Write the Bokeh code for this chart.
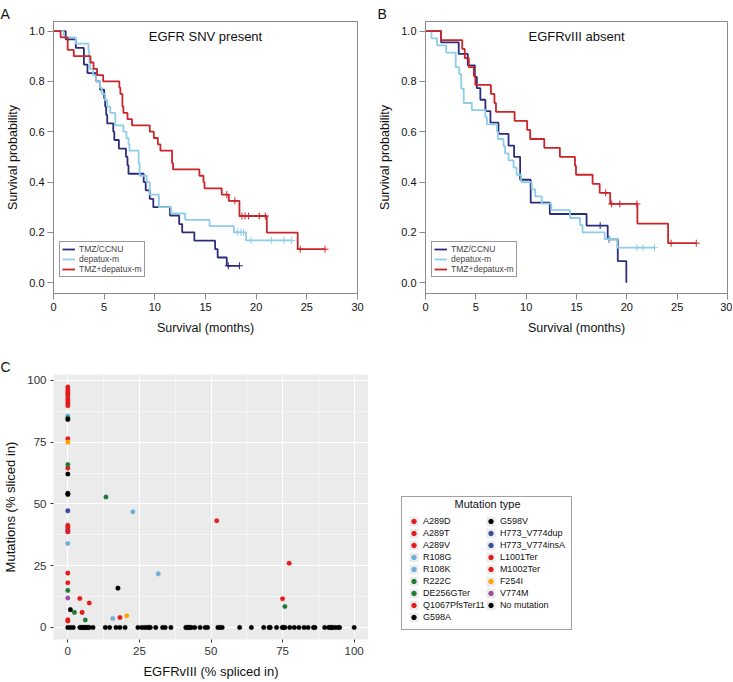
import numpy as np
from bokeh.plotting import figure
from bokeh.models import (Range1d, FixedTicker, PrintfTickFormatter, Legend,
                          LegendItem, Label, ColumnDataSource)
from bokeh.layouts import column, row
from bokeh.embed import file_html
from bokeh.resources import INLINE

FONT = "Liberation Sans"

# ---------------- Kaplan-Meier data (months, survival) ----------------
# Panel A: EGFR SNV present
a_tmz_t = [1.2, 2.2, 3.0, 3.35, 4.2, 4.6, 5.0, 5.1, 5.2, 5.3, 5.9, 6.0, 6.45, 7.15, 7.3,
           7.4, 8.9, 9.1, 9.5, 9.85, 11.5, 12.4, 12.7, 13.9, 15.95, 16.2, 17.1]
a_tmz_s = [0.967, 0.933, 0.867, 0.833, 0.800, 0.767, 0.733, 0.700, 0.667, 0.633, 0.600,
           0.567, 0.533, 0.500, 0.467, 0.433, 0.400, 0.367, 0.333, 0.300, 0.267, 0.233,
           0.200, 0.167, 0.133, 0.100, 0.067]
a_tmz_c = [17.25, 18.35]

a_dep_t = [1.0, 2.2, 3.45, 3.5, 3.55, 3.6, 3.9, 4.2, 4.6, 4.75, 5.1, 5.3, 5.6, 6.1, 6.9,
           7.2, 7.4, 7.5, 8.4, 8.5, 9.2, 9.5, 10.4, 11.6, 13.0, 15.4, 17.8, 19.0]
a_dep_s = [0.975, 0.950, 0.925, 0.900, 0.875, 0.850, 0.825, 0.800, 0.775, 0.750, 0.725,
           0.700, 0.675, 0.625, 0.600, 0.575, 0.550, 0.525, 0.475, 0.425, 0.400, 0.350,
           0.300, 0.275, 0.250, 0.225, 0.200, 0.168]
a_dep_c = [18.15, 18.5, 18.75, 19.5, 21.5, 22.75, 23.5]

a_cmb_t = [0.7, 1.4, 2.0, 3.65, 3.95, 4.3, 4.9, 6.5, 6.6, 6.8, 6.9, 7.3, 7.75, 9.5, 9.9,
           10.3, 10.55, 11.7, 11.8, 14.4, 14.8, 14.9, 16.6, 17.3, 18.35, 21.05, 24.1]
a_cmb_s = [0.975, 0.925, 0.900, 0.875, 0.850, 0.825, 0.800, 0.775, 0.750, 0.700, 0.675,
           0.650, 0.625, 0.600, 0.575, 0.550, 0.525, 0.475, 0.450, 0.425, 0.400, 0.375,
           0.350, 0.325, 0.265, 0.199, 0.133]
a_cmb_c = [17.1, 17.9, 18.6, 18.9, 19.25, 20.3, 20.9, 24.35, 26.8]

# Panel B: EGFRvIII absent
b_tmz_t = [1.55, 3.3, 4.2, 4.9, 5.1, 5.45, 5.95, 6.45, 7.25, 8.25, 8.8, 9.4, 10.45,
           12.35, 16.0, 18.1, 19.1, 19.95]
b_tmz_s = [0.955, 0.909, 0.864, 0.818, 0.773, 0.727, 0.682, 0.636, 0.591, 0.545, 0.500,
           0.409, 0.318, 0.273, 0.227, 0.172, 0.086, 0.0]
b_tmz_c = [17.35, 18.25]

b_dep_t = [0.6, 1.15, 2.05, 3.0, 3.35, 3.55, 3.8, 4.6, 5.95, 6.1, 7.1, 7.2, 7.75, 7.9,
           8.25, 8.75, 9.05, 9.5, 10.55, 10.9, 11.55, 12.5, 14.35, 15.35, 15.6, 17.8, 19.05]
b_dep_s = [0.971, 0.943, 0.914, 0.857, 0.829, 0.771, 0.714, 0.686, 0.657, 0.629, 0.600,
           0.571, 0.543, 0.514, 0.486, 0.457, 0.429, 0.400, 0.371, 0.343, 0.314, 0.288,
           0.257, 0.229, 0.200, 0.173, 0.139]
b_dep_c = [18.3, 21.0, 21.6, 22.75]

b_cmb_t = [1.55, 3.65, 3.9, 4.3, 4.8, 4.95, 6.5, 6.85, 7.0, 8.85, 10.1, 10.4, 11.8,
           13.35, 14.85, 14.95, 16.6, 17.3, 18.35, 21.05, 24.1]
b_cmb_s = [0.964, 0.929, 0.893, 0.857, 0.821, 0.786, 0.750, 0.714, 0.679, 0.643, 0.607,
           0.571, 0.536, 0.500, 0.464, 0.429, 0.393, 0.357, 0.313, 0.235, 0.157]
b_cmb_c = [17.9, 18.5, 19.3, 21.0, 24.4, 26.9]

arm_labels = ["TMZ/CCNU", "depatux-m", "TMZ+depatux-m"]
arm_colors = ["#2B2D7C", "#8ECDEA", "#C8262B"]

month_ticks = [0, 5, 10, 15, 20, 25, 30]
prob_ticks = [0.0, 0.2, 0.4, 0.6, 0.8, 1.0]

# ---------------- Scatter data (panel C) ----------------
mut_types = ["A289D", "A289T", "A289V", "R108G", "R108K", "R222C", "DE256GTer",
             "Q1067PfsTer11", "G598A", "G598V", "H773_V774dup", "H773_V774insA",
             "L1001Ter", "M1002Ter", "F254I", "V774M", "No mutation"]
mut_colors = ["#E41A1C", "#E41A1C", "#E41A1C", "#6FAED8", "#6FAED8", "#1E7B37", "#1E7B37",
              "#E41A1C", "#000000", "#000000", "#3A4B9E", "#3A4B9E", "#E41A1C", "#E41A1C",
              "#FFA500", "#984EA3", "#000000"]

vIII_x = [0, 0, 0, 0, 4.2,
          0, 0, 0, 0, 77.3,
          0, 0, 0, 0, 0, 0, 0, 52.0,
          0, 22.7, 15.7,
          0, 31.6,
          0, 0, 13.3, 2.3,
          0, 6.1, 75.8,
          0, 5.0,
          0, 0, 0.9,
          0, 0, 17.5,
          0,
          0,
          0, 7.5, 75.0,
          0, 0, 18.2,
          0, 20.6,
          0]
mut_y = [96.2, 94.6, 64.5, 39.7, 11.7,
         92.6, 90.6, 76.4, 18.1, 26.0,
         97.3, 95.3, 93.8, 91.6, 89.7, 41.3, 22.0, 43.2,
         85.6, 46.8, 3.6,
         34.0, 21.7,
         84.8, 65.9, 52.8, 6.1,
         15.0, 3.0, 8.5,
         40.6, 6.1,
         84.2, 54.3, 7.2,
         62.1, 53.8, 15.9,
         47.2,
         38.9,
         38.7, 9.9, 11.6,
         3.1, 2.6, 4.0,
         75.0, 4.7,
         11.9]
mut_label = (["A289D"] * 5 + ["A289T"] * 5 + ["A289V"] * 8 + ["R108G"] * 3 + ["R108K"] * 2
             + ["R222C"] * 4 + ["DE256GTer"] * 3 + ["Q1067PfsTer11"] * 2 + ["G598A"] * 3
             + ["G598V"] * 3 + ["H773_V774dup"] + ["H773_V774insA"] + ["L1001Ter"] * 3
             + ["M1002Ter"] * 3 + ["F254I"] * 2 + ["V774M"])

nomut_x = [0, 0.9, 1.9, 4.2, 4.7, 5.2, 5.7, 6.1, 6.6, 7.1, 7.5, 8.8, 13.1, 14.6, 16.8, 18.2,
           20.0, 24.5, 25.9, 26.9, 27.8, 28.4, 28.8, 30.7, 33.1, 34.0, 36.0, 41.2, 41.7,
           42.1, 42.6, 43.1, 44.3, 46.2, 48.0, 48.8, 52.4, 53.2, 53.9, 60.0, 64.1, 68.4,
           70.3, 70.7, 72.9, 74.9, 75.3, 75.8, 77.5, 79.1, 80.7, 82.5, 83.9, 85.8, 86.3,
           89.7, 91.1, 91.6, 92.0, 92.5, 93.4, 94.4, 94.9, 100.0]
nomut_y = [0.0] * len(nomut_x)

pct_ticks = [0, 25, 50, 75, 100]
pct_minor = [12.5, 37.5, 62.5, 87.5]


def km_arrays(t, s, c):
    end = max(c + [t[-1]])
    x = [0.0] + list(t) + [end]
    y = [1.0] + list(s) + [s[-1]]
    ta = np.array(t)
    sa = np.array(s)
    idx = np.searchsorted(ta, np.array(c), side="right") - 1
    cy = [float(sa[i]) if i >= 0 else 1.0 for i in idx]
    return x, y, list(c), cy


def set_letter(p, letter, offset):
    p.title.text = letter
    p.title.align = "left"
    p.title.offset = offset
    p.title.standoff = 0
    p.title.text_font = FONT
    p.title.text_font_size = "14px"
    p.title.text_font_style = "normal"
    p.title.text_color = "#111111"


def km_fig(width, bl, br, curves, title, letter):
    p = figure(width=width, height=338, min_border_left=bl, min_border_right=br,
               min_border_top=21, min_border_bottom=45,
               x_range=Range1d(0, 30), y_range=Range1d(-0.043, 1.038),
               output_backend="svg", toolbar_location=None, tools="")
    p.grid.visible = False
    p.background_fill_color = "white"
    p.border_fill_color = "white"
    p.outline_line_color = "#8A8A8A"
    p.outline_line_width = 1
    for ax in (p.xaxis[0], p.yaxis[0]):
        ax.axis_line_color = "#8A8A8A"
        ax.major_tick_line_color = "#8A8A8A"
        ax.minor_tick_line_color = None
        ax.major_tick_out = 6
        ax.major_tick_in = 0
        ax.major_label_text_font = FONT
        ax.major_label_text_font_size = "11px"
        ax.major_label_text_color = "#111111"
        ax.axis_label_text_font = FONT
        ax.axis_label_text_font_size = "12.5px"
        ax.axis_label_text_font_style = "normal"
        ax.axis_label_text_color = "#111111"
        ax.major_label_standoff = 3
    p.xaxis.ticker = FixedTicker(ticks=month_ticks)
    p.yaxis.ticker = FixedTicker(ticks=prob_ticks)
    p.yaxis.formatter = PrintfTickFormatter(format="%.1f")
    p.yaxis.major_label_orientation = "horizontal"
    p.xaxis.axis_label = "Survival (months)"
    p.yaxis.axis_label = "Survival probability"
    p.xaxis.axis_label_standoff = 7
    p.yaxis.axis_label_standoff = 6

    items = []
    for (t, s, c), lab, col in zip(curves, arm_labels, arm_colors):
        x, y, cx, cy = km_arrays(t, s, c)
        r = p.step(x=x, y=y, mode="after", line_color=col, line_width=1.8)
        p.scatter(x=cx, y=cy, marker="cross", size=7, line_color=col, line_width=1)
        items.append(LegendItem(label=lab, renderers=[r]))
    leg = Legend(items=items, location=(6, 16), border_line_color="#333333",
                 border_line_width=1, background_fill_color="white",
                 background_fill_alpha=1, label_text_font=FONT,
                 label_text_font_size="8.5px", glyph_width=13, glyph_height=8,
                 label_height=8, label_standoff=4, padding=2, spacing=0, margin=0)
    p.add_layout(leg)
    p.add_layout(Label(x=15, y=0.978, text=title, text_align="center",
                       text_baseline="middle", text_font=FONT, text_font_size="13px",
                       text_color="#111111"))
    set_letter(p, letter, -bl + 0)
    return p


pA = km_fig(375, 53, 18, [(a_tmz_t, a_tmz_s, a_tmz_c), (a_dep_t, a_dep_s, a_dep_c),
                          (a_cmb_t, a_cmb_s, a_cmb_c)], "EGFR SNV present", "A")
pB = km_fig(357, 48, 5, [(b_tmz_t, b_tmz_s, b_tmz_c), (b_dep_t, b_dep_s, b_dep_c),
                         (b_cmb_t, b_cmb_s, b_cmb_c)], "EGFRvIII absent", "B")

# ---------------- Panel C ----------------
pC = figure(width=368, height=343, min_border_left=51, min_border_right=0,
            min_border_top=36, min_border_bottom=42,
            x_range=Range1d(-5, 105), y_range=Range1d(-4.875, 102.375),
            output_backend="svg", toolbar_location=None, tools="")
pC.background_fill_color = "#EBEBEB"
pC.border_fill_color = "white"
pC.outline_line_color = None
for ax in (pC.xaxis[0], pC.yaxis[0]):
    ax.axis_line_color = None
    ax.major_tick_line_color = "#333333"
    ax.minor_tick_line_color = None
    ax.major_tick_out = 3
    ax.major_tick_in = 0
    ax.major_label_text_font = FONT
    ax.major_label_text_font_size = "11.5px"
    ax.major_label_text_color = "#333333"
    ax.axis_label_text_font = FONT
    ax.axis_label_text_font_size = "13px"
    ax.axis_label_text_font_style = "normal"
    ax.axis_label_text_color = "#111111"
    ax.major_label_standoff = 3
    ax.ticker = FixedTicker(ticks=pct_ticks, minor_ticks=pct_minor)
pC.yaxis.major_label_orientation = "horizontal"
pC.xaxis.axis_label = "EGFRvIII (% spliced in)"
pC.yaxis.axis_label = "Mutations (% sliced in)"
pC.xaxis.axis_label_standoff = 6
pC.yaxis.axis_label_standoff = 6
for g in (pC.xgrid[0], pC.ygrid[0]):
    g.grid_line_color = "white"
    g.grid_line_width = 1.1
    g.minor_grid_line_color = "white"
    g.minor_grid_line_width = 0.5
set_letter(pC, "C", -53)

pC.scatter(x=nomut_x, y=nomut_y, size=4.6, fill_color="#000000",
           line_color="#000000", line_width=0.3)
lab_arr = np.array(mut_label)
xs = np.array(vIII_x)
ys = np.array(mut_y)
for t, col in zip(mut_types, mut_colors):
    if t == "No mutation":
        continue
    m = lab_arr == t
    src = ColumnDataSource(data=dict(x=xs[m], y=ys[m]))
    pC.scatter(x="x", y="y", source=src, size=4.6, fill_color=col,
               line_color=col, line_width=0.3)

# ---------------- Legend panel for C ----------------
pL = figure(width=364, height=343, min_border_left=0, min_border_right=0,
            min_border_top=0, min_border_bottom=0, x_axis_type=None, y_axis_type=None,
            x_range=Range1d(0, 1), y_range=Range1d(0, 1),
            output_backend="svg", toolbar_location=None, tools="")
pL.grid.visible = False
pL.outline_line_color = None
pL.background_fill_color = "white"
pL.border_fill_color = "white"
# legend proxies (NaN positions: nothing drawn, only the legend keys)
key_bg = pL.quad(left=[np.nan], right=[np.nan], top=[np.nan], bottom=[np.nan],
                 fill_color="#EBEBEB", line_color=None)
items = []
for t, col in zip(mut_types, mut_colors):
    r = pL.scatter(x=[np.nan], y=[np.nan], size=4.6, fill_color=col, line_color=col)
    items.append(LegendItem(label=t, renderers=[key_bg, r]))
legC = Legend(items=items, location=(33, 9), nrows=9, title=" ",
              title_text_font=FONT, title_text_font_size="9px", title_standoff=2,
              border_line_color="#444444", border_line_width=1,
              background_fill_color="white", background_fill_alpha=0,
              label_text_font=FONT, label_text_font_size="9px", label_text_color="#111111",
              glyph_width=11, glyph_height=12, label_height=12, label_standoff=4,
              padding=6, spacing=0, margin=0)
pL.add_layout(legC)
pL.add_layout(Label(x=119, y=136, x_units="screen", y_units="screen",
                    text="Mutation type", text_align="center", text_baseline="middle",
                    text_font=FONT, text_font_size="11px", text_color="#111111"))

layout = column(row(pA, pB), row(pC, pL))
open("out.html", "w").write(file_html(layout, INLINE))
